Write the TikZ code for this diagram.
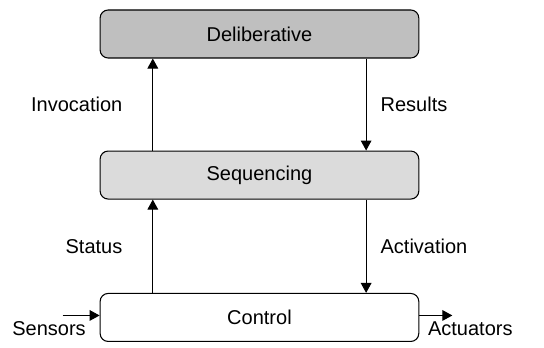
\documentclass[tikz,border=0pt]{standalone}
\usepackage{fontspec}
\setmainfont{Liberation Sans}
\usepackage{tikz}
\usetikzlibrary{positioning,arrows.meta}

\begin{document}
\begin{tikzpicture}[%
layer/.style={draw,rounded corners=6pt,line width=0.8pt,minimum width=239pt,minimum height=36pt,inner sep=0pt,font=\fontsize{15}{18}\selectfont},%
trans/.style={-{Triangle[length=7.5pt,width=8pt]},line width=0.75pt},%
lbl/.style={inner sep=0pt,font=\fontsize{15}{18}\selectfont},%
node distance=34.5pt,%
  ]
    \useasboundingbox (0,0) rectangle (408pt,-261pt);

    \node[layer,fill=black!25] (delib) at (194.6pt,-25.5pt) {Deliberative};

    \node[layer,fill=black!14] (seq) [below=69pt of delib] {Sequencing};

    \node[layer,fill=white] (ctrl) [below=70pt of seq] {Control};

        % upward links on the left, downward links on the right
        \draw[trans] ([xshift=-80pt]seq.north) -- node[lbl,left=22.5pt] {Invocation} ([xshift=-80pt]delib.south);

        \draw[trans] ([xshift=80pt]delib.south) -- node[lbl,right=10.5pt] {Results} ([xshift=80pt]seq.north);

        \draw[trans] ([xshift=-80pt]ctrl.north) -- node[lbl,left=22.5pt] {Status} ([xshift=-80pt]seq.south);

        \draw[trans] ([xshift=80pt]seq.south) -- node[lbl,right=10.5pt] {Activation} ([xshift=80pt]ctrl.north);

    \coordinate (sin) at ([xshift=-27.75pt,yshift=1.5pt]ctrl.west);
    \coordinate (aout) at ([xshift=24.75pt,yshift=1.5pt]ctrl.east);

        \draw[trans] (sin) -- (sin -| ctrl.west);
        \draw[trans] (aout -| ctrl.east) -- (aout);

    \node[lbl] (sensors) at ([xshift=-37.9pt,yshift=-8.25pt]ctrl.west) {Sensors};
    \node[lbl] (actuators) at ([xshift=38.25pt,yshift=-8.25pt]ctrl.east) {Actuators};
  \end{tikzpicture}
\end{document}
